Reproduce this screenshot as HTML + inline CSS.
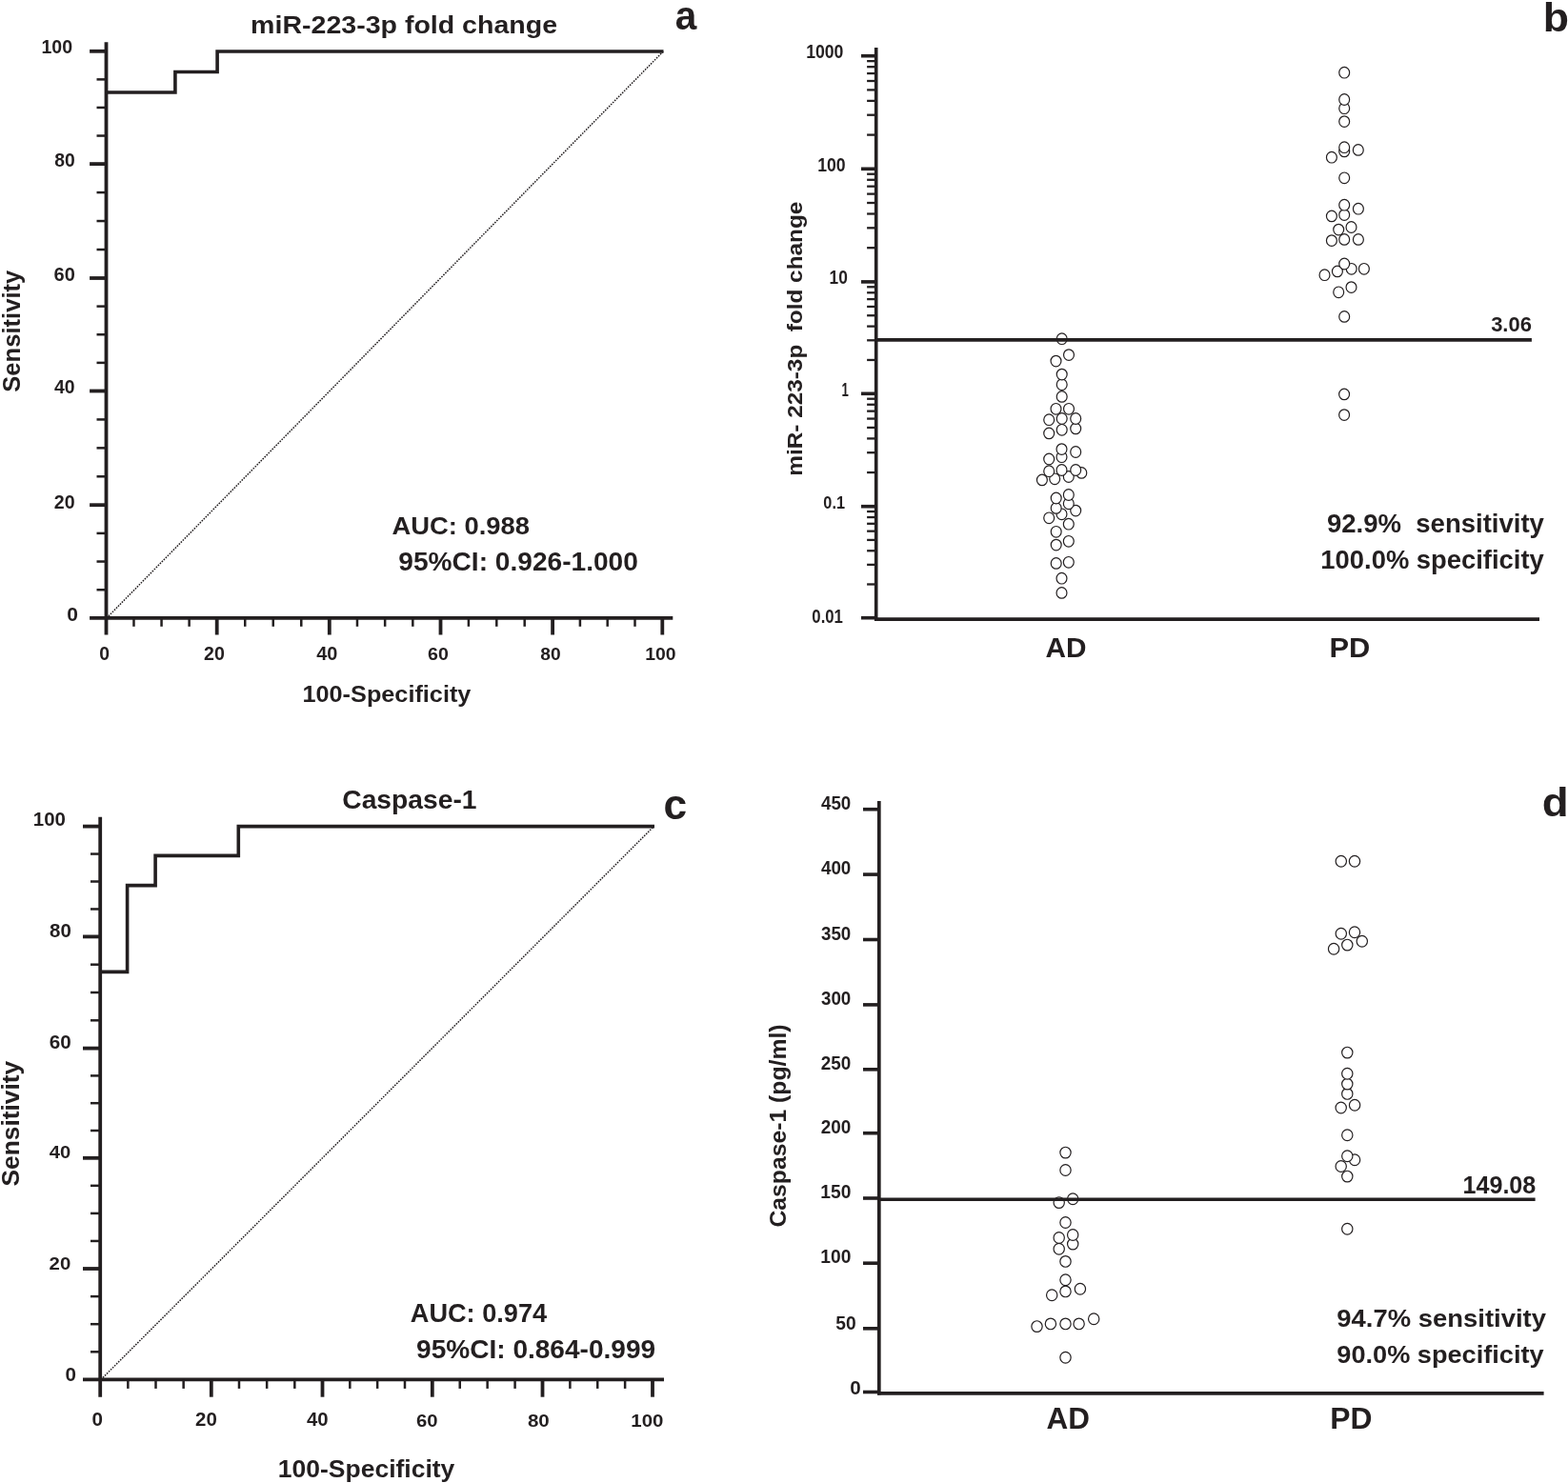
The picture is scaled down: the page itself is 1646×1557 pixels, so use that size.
<!DOCTYPE html>
<html><head><meta charset="utf-8"><title>Figure</title><style>html,body{margin:0;padding:0;background:#fff;}svg{display:block;}text{white-space:pre;}</style></head><body>
<svg width="1646" height="1557" viewBox="0 0 1646 1557"><g stroke="#231f20" fill="#231f20" font-family="&quot;Liberation Sans&quot;, Arial, sans-serif" font-weight="bold"><line x1="111.50" y1="44.30" x2="111.50" y2="666.50" stroke-width="3.8" stroke-linecap="butt"/>
<line x1="94.10" y1="648.90" x2="706.30" y2="648.90" stroke-width="3.8" stroke-linecap="butt"/>
<line x1="101.50" y1="619.23" x2="111.50" y2="619.23" stroke-width="2.5" stroke-linecap="butt"/>
<line x1="101.50" y1="589.55" x2="111.50" y2="589.55" stroke-width="2.5" stroke-linecap="butt"/>
<line x1="101.50" y1="559.88" x2="111.50" y2="559.88" stroke-width="2.5" stroke-linecap="butt"/>
<line x1="94.10" y1="530.20" x2="111.50" y2="530.20" stroke-width="3.8" stroke-linecap="butt"/>
<line x1="101.50" y1="500.28" x2="111.50" y2="500.28" stroke-width="2.5" stroke-linecap="butt"/>
<line x1="101.50" y1="470.35" x2="111.50" y2="470.35" stroke-width="2.5" stroke-linecap="butt"/>
<line x1="101.50" y1="440.43" x2="111.50" y2="440.43" stroke-width="2.5" stroke-linecap="butt"/>
<line x1="94.10" y1="410.50" x2="111.50" y2="410.50" stroke-width="3.8" stroke-linecap="butt"/>
<line x1="101.50" y1="380.88" x2="111.50" y2="380.88" stroke-width="2.5" stroke-linecap="butt"/>
<line x1="101.50" y1="351.25" x2="111.50" y2="351.25" stroke-width="2.5" stroke-linecap="butt"/>
<line x1="101.50" y1="321.62" x2="111.50" y2="321.62" stroke-width="2.5" stroke-linecap="butt"/>
<line x1="94.10" y1="292.00" x2="111.50" y2="292.00" stroke-width="3.8" stroke-linecap="butt"/>
<line x1="101.50" y1="262.02" x2="111.50" y2="262.02" stroke-width="2.5" stroke-linecap="butt"/>
<line x1="101.50" y1="232.05" x2="111.50" y2="232.05" stroke-width="2.5" stroke-linecap="butt"/>
<line x1="101.50" y1="202.07" x2="111.50" y2="202.07" stroke-width="2.5" stroke-linecap="butt"/>
<line x1="94.10" y1="172.10" x2="111.50" y2="172.10" stroke-width="3.8" stroke-linecap="butt"/>
<line x1="101.50" y1="142.53" x2="111.50" y2="142.53" stroke-width="2.5" stroke-linecap="butt"/>
<line x1="101.50" y1="112.95" x2="111.50" y2="112.95" stroke-width="2.5" stroke-linecap="butt"/>
<line x1="101.50" y1="83.38" x2="111.50" y2="83.38" stroke-width="2.5" stroke-linecap="butt"/>
<line x1="94.10" y1="53.80" x2="111.50" y2="53.80" stroke-width="3.8" stroke-linecap="butt"/>
<line x1="140.47" y1="648.90" x2="140.47" y2="657.80" stroke-width="2.5" stroke-linecap="butt"/>
<line x1="169.55" y1="648.90" x2="169.55" y2="657.80" stroke-width="2.5" stroke-linecap="butt"/>
<line x1="198.62" y1="648.90" x2="198.62" y2="657.80" stroke-width="2.5" stroke-linecap="butt"/>
<line x1="227.70" y1="648.90" x2="227.70" y2="666.50" stroke-width="3.8" stroke-linecap="butt"/>
<line x1="257.23" y1="648.90" x2="257.23" y2="657.80" stroke-width="2.5" stroke-linecap="butt"/>
<line x1="286.75" y1="648.90" x2="286.75" y2="657.80" stroke-width="2.5" stroke-linecap="butt"/>
<line x1="316.27" y1="648.90" x2="316.27" y2="657.80" stroke-width="2.5" stroke-linecap="butt"/>
<line x1="345.80" y1="648.90" x2="345.80" y2="666.50" stroke-width="3.8" stroke-linecap="butt"/>
<line x1="374.98" y1="648.90" x2="374.98" y2="657.80" stroke-width="2.5" stroke-linecap="butt"/>
<line x1="404.15" y1="648.90" x2="404.15" y2="657.80" stroke-width="2.5" stroke-linecap="butt"/>
<line x1="433.32" y1="648.90" x2="433.32" y2="657.80" stroke-width="2.5" stroke-linecap="butt"/>
<line x1="462.50" y1="648.90" x2="462.50" y2="666.50" stroke-width="3.8" stroke-linecap="butt"/>
<line x1="491.90" y1="648.90" x2="491.90" y2="657.80" stroke-width="2.5" stroke-linecap="butt"/>
<line x1="521.30" y1="648.90" x2="521.30" y2="657.80" stroke-width="2.5" stroke-linecap="butt"/>
<line x1="550.70" y1="648.90" x2="550.70" y2="657.80" stroke-width="2.5" stroke-linecap="butt"/>
<line x1="580.10" y1="648.90" x2="580.10" y2="666.50" stroke-width="3.8" stroke-linecap="butt"/>
<line x1="608.90" y1="648.90" x2="608.90" y2="657.80" stroke-width="2.5" stroke-linecap="butt"/>
<line x1="637.70" y1="648.90" x2="637.70" y2="657.80" stroke-width="2.5" stroke-linecap="butt"/>
<line x1="666.50" y1="648.90" x2="666.50" y2="657.80" stroke-width="2.5" stroke-linecap="butt"/>
<line x1="695.30" y1="648.90" x2="695.30" y2="666.50" stroke-width="3.8" stroke-linecap="butt"/>
<path d="M111.5,97.0 H183.9 V75.5 H228.1 V54.0 H696.5" stroke-width="3.6" fill="none" stroke-linejoin="miter" stroke-linecap="butt"/>
<line x1="111.9" y1="648.9" x2="696.4" y2="53.8" stroke-width="1.5" stroke-dasharray="1.6 1.25"/>
<text stroke="none" transform="translate(263.10,34.71) scale(1.0738,1)" font-size="26.60">miR-223-3p fold change</text>
<text stroke="none" transform="translate(708.78,30.87) scale(0.9414,1)" font-size="43.09">a</text>
<text stroke="none" transform="translate(20.66,411.87) rotate(-90) scale(1.0086,1)" font-size="25.43">Sensitivity</text>
<text stroke="none" transform="translate(43.43,55.99) scale(0.9381,1)" font-size="20.85">100</text>
<text stroke="none" transform="translate(57.32,174.80) scale(0.9464,1)" font-size="20.42">80</text>
<text stroke="none" transform="translate(56.60,294.70) scale(1.0216,1)" font-size="19.58">60</text>
<text stroke="none" transform="translate(57.01,413.20) scale(0.9579,1)" font-size="20.28">40</text>
<text stroke="none" transform="translate(56.81,533.79) scale(0.9474,1)" font-size="20.70">20</text>
<text stroke="none" transform="translate(70.36,652.20) scale(1.0532,1)" font-size="20.00">0</text>
<text stroke="none" transform="translate(104.33,693.01) scale(0.9961,1)" font-size="19.44">0</text>
<text stroke="none" transform="translate(214.01,693.01) scale(1.0092,1)" font-size="19.44">20</text>
<text stroke="none" transform="translate(332.30,693.11) scale(1.0316,1)" font-size="19.30">40</text>
<text stroke="none" transform="translate(449.12,693.01) scale(1.0238,1)" font-size="19.15">60</text>
<text stroke="none" transform="translate(567.32,693.01) scale(1.0040,1)" font-size="19.15">80</text>
<text stroke="none" transform="translate(677.13,693.01) scale(1.0142,1)" font-size="19.15">100</text>
<text stroke="none" transform="translate(317.48,736.86) scale(1.0329,1)" font-size="24.47">100-Specificity</text>
<text stroke="none" transform="translate(411.48,561.04) scale(1.0339,1)" font-size="26.48">AUC: 0.988</text>
<text stroke="none" transform="translate(418.28,599.32) scale(1.0181,1)" font-size="27.61">95%CI: 0.926-1.000</text>
<line x1="919.70" y1="49.90" x2="919.70" y2="651.90" stroke-width="3.6" stroke-linecap="butt"/>
<line x1="918.00" y1="650.10" x2="1616.00" y2="650.10" stroke-width="3.6" stroke-linecap="butt"/>
<line x1="904.00" y1="648.70" x2="919.70" y2="648.70" stroke-width="3.6" stroke-linecap="butt"/>
<line x1="910.10" y1="613.48" x2="919.70" y2="613.48" stroke-width="2.3" stroke-linecap="butt"/>
<line x1="910.10" y1="592.88" x2="919.70" y2="592.88" stroke-width="2.3" stroke-linecap="butt"/>
<line x1="910.10" y1="578.26" x2="919.70" y2="578.26" stroke-width="2.3" stroke-linecap="butt"/>
<line x1="910.10" y1="566.92" x2="919.70" y2="566.92" stroke-width="2.3" stroke-linecap="butt"/>
<line x1="910.10" y1="557.66" x2="919.70" y2="557.66" stroke-width="2.3" stroke-linecap="butt"/>
<line x1="910.10" y1="549.82" x2="919.70" y2="549.82" stroke-width="2.3" stroke-linecap="butt"/>
<line x1="910.10" y1="543.04" x2="919.70" y2="543.04" stroke-width="2.3" stroke-linecap="butt"/>
<line x1="910.10" y1="537.05" x2="919.70" y2="537.05" stroke-width="2.3" stroke-linecap="butt"/>
<line x1="904.00" y1="531.70" x2="919.70" y2="531.70" stroke-width="3.6" stroke-linecap="butt"/>
<line x1="910.10" y1="496.06" x2="919.70" y2="496.06" stroke-width="2.3" stroke-linecap="butt"/>
<line x1="910.10" y1="475.21" x2="919.70" y2="475.21" stroke-width="2.3" stroke-linecap="butt"/>
<line x1="910.10" y1="460.42" x2="919.70" y2="460.42" stroke-width="2.3" stroke-linecap="butt"/>
<line x1="910.10" y1="448.94" x2="919.70" y2="448.94" stroke-width="2.3" stroke-linecap="butt"/>
<line x1="910.10" y1="439.57" x2="919.70" y2="439.57" stroke-width="2.3" stroke-linecap="butt"/>
<line x1="910.10" y1="431.64" x2="919.70" y2="431.64" stroke-width="2.3" stroke-linecap="butt"/>
<line x1="910.10" y1="424.77" x2="919.70" y2="424.77" stroke-width="2.3" stroke-linecap="butt"/>
<line x1="910.10" y1="418.72" x2="919.70" y2="418.72" stroke-width="2.3" stroke-linecap="butt"/>
<line x1="904.00" y1="413.30" x2="919.70" y2="413.30" stroke-width="3.6" stroke-linecap="butt"/>
<line x1="910.10" y1="377.96" x2="919.70" y2="377.96" stroke-width="2.3" stroke-linecap="butt"/>
<line x1="910.10" y1="357.29" x2="919.70" y2="357.29" stroke-width="2.3" stroke-linecap="butt"/>
<line x1="910.10" y1="342.62" x2="919.70" y2="342.62" stroke-width="2.3" stroke-linecap="butt"/>
<line x1="910.10" y1="331.24" x2="919.70" y2="331.24" stroke-width="2.3" stroke-linecap="butt"/>
<line x1="910.10" y1="321.95" x2="919.70" y2="321.95" stroke-width="2.3" stroke-linecap="butt"/>
<line x1="910.10" y1="314.09" x2="919.70" y2="314.09" stroke-width="2.3" stroke-linecap="butt"/>
<line x1="910.10" y1="307.28" x2="919.70" y2="307.28" stroke-width="2.3" stroke-linecap="butt"/>
<line x1="910.10" y1="301.27" x2="919.70" y2="301.27" stroke-width="2.3" stroke-linecap="butt"/>
<line x1="904.00" y1="295.90" x2="919.70" y2="295.90" stroke-width="3.6" stroke-linecap="butt"/>
<line x1="910.10" y1="260.20" x2="919.70" y2="260.20" stroke-width="2.3" stroke-linecap="butt"/>
<line x1="910.10" y1="239.31" x2="919.70" y2="239.31" stroke-width="2.3" stroke-linecap="butt"/>
<line x1="910.10" y1="224.50" x2="919.70" y2="224.50" stroke-width="2.3" stroke-linecap="butt"/>
<line x1="910.10" y1="213.00" x2="919.70" y2="213.00" stroke-width="2.3" stroke-linecap="butt"/>
<line x1="910.10" y1="203.61" x2="919.70" y2="203.61" stroke-width="2.3" stroke-linecap="butt"/>
<line x1="910.10" y1="195.67" x2="919.70" y2="195.67" stroke-width="2.3" stroke-linecap="butt"/>
<line x1="910.10" y1="188.79" x2="919.70" y2="188.79" stroke-width="2.3" stroke-linecap="butt"/>
<line x1="910.10" y1="182.73" x2="919.70" y2="182.73" stroke-width="2.3" stroke-linecap="butt"/>
<line x1="904.00" y1="177.30" x2="919.70" y2="177.30" stroke-width="3.6" stroke-linecap="butt"/>
<line x1="910.10" y1="141.60" x2="919.70" y2="141.60" stroke-width="2.3" stroke-linecap="butt"/>
<line x1="910.10" y1="120.71" x2="919.70" y2="120.71" stroke-width="2.3" stroke-linecap="butt"/>
<line x1="910.10" y1="105.90" x2="919.70" y2="105.90" stroke-width="2.3" stroke-linecap="butt"/>
<line x1="910.10" y1="94.40" x2="919.70" y2="94.40" stroke-width="2.3" stroke-linecap="butt"/>
<line x1="910.10" y1="85.01" x2="919.70" y2="85.01" stroke-width="2.3" stroke-linecap="butt"/>
<line x1="910.10" y1="77.07" x2="919.70" y2="77.07" stroke-width="2.3" stroke-linecap="butt"/>
<line x1="910.10" y1="70.19" x2="919.70" y2="70.19" stroke-width="2.3" stroke-linecap="butt"/>
<line x1="910.10" y1="64.13" x2="919.70" y2="64.13" stroke-width="2.3" stroke-linecap="butt"/>
<line x1="904.00" y1="58.70" x2="919.70" y2="58.70" stroke-width="3.6" stroke-linecap="butt"/>
<text stroke="none" transform="translate(1619.68,32.60) scale(1.0323,1)" font-size="43.21">b</text>
<text stroke="none" transform="translate(842.17,499.70) rotate(-90) scale(1.0600,1)" font-size="22.98">miR- 223-3p  fold change</text>
<text stroke="none" transform="translate(846.14,60.80) scale(0.8844,1)" font-size="20.00">1000</text>
<text stroke="none" transform="translate(858.24,179.79) scale(0.8522,1)" font-size="20.70">100</text>
<text stroke="none" transform="translate(870.56,298.10) scale(0.8543,1)" font-size="20.28">10</text>
<text stroke="none" transform="translate(883.61,415.80) scale(0.6793,1)" font-size="19.42">1</text>
<text stroke="none" transform="translate(864.35,534.41) scale(0.8630,1)" font-size="18.87">0.1</text>
<text stroke="none" transform="translate(852.33,653.60) scale(0.8261,1)" font-size="20.28">0.01</text>
<text stroke="none" transform="translate(1097.61,690.40) scale(0.9879,1)" font-size="30.14">AD</text>
<text stroke="none" transform="translate(1395.44,690.40) scale(1.0237,1)" font-size="30.14">PD</text>
<text stroke="none" transform="translate(1392.90,558.80) scale(1.0150,1)" font-size="27.13">92.9%  sensitivity</text>
<text stroke="none" transform="translate(1386.36,596.74) scale(0.9982,1)" font-size="27.45">100.0% specificity</text>
<text stroke="none" transform="translate(1565.16,348.28) scale(1.0190,1)" font-size="21.55">3.06</text>
<ellipse cx="1114.5" cy="622.4" rx="5.45" ry="5.8" stroke-width="1.2" fill="#fff"/>
<ellipse cx="1114.5" cy="607.2" rx="5.45" ry="5.8" stroke-width="1.2" fill="#fff"/>
<ellipse cx="1108.7" cy="591.4" rx="5.45" ry="5.8" stroke-width="1.2" fill="#fff"/>
<ellipse cx="1121.8" cy="590.3" rx="5.45" ry="5.8" stroke-width="1.2" fill="#fff"/>
<ellipse cx="1108.7" cy="572.1" rx="5.45" ry="5.8" stroke-width="1.2" fill="#fff"/>
<ellipse cx="1121.8" cy="568.3" rx="5.45" ry="5.8" stroke-width="1.2" fill="#fff"/>
<ellipse cx="1108.7" cy="558.3" rx="5.45" ry="5.8" stroke-width="1.2" fill="#fff"/>
<ellipse cx="1121.8" cy="550.2" rx="5.45" ry="5.8" stroke-width="1.2" fill="#fff"/>
<ellipse cx="1101.2" cy="543.8" rx="5.45" ry="5.8" stroke-width="1.2" fill="#fff"/>
<ellipse cx="1114.5" cy="539.8" rx="5.45" ry="5.8" stroke-width="1.2" fill="#fff"/>
<ellipse cx="1129.2" cy="536.1" rx="5.45" ry="5.8" stroke-width="1.2" fill="#fff"/>
<ellipse cx="1108.7" cy="533.4" rx="5.45" ry="5.8" stroke-width="1.2" fill="#fff"/>
<ellipse cx="1121.8" cy="528.8" rx="5.45" ry="5.8" stroke-width="1.2" fill="#fff"/>
<ellipse cx="1108.7" cy="523.0" rx="5.45" ry="5.8" stroke-width="1.2" fill="#fff"/>
<ellipse cx="1121.8" cy="519.5" rx="5.45" ry="5.8" stroke-width="1.2" fill="#fff"/>
<ellipse cx="1093.9" cy="503.9" rx="5.45" ry="5.8" stroke-width="1.2" fill="#fff"/>
<ellipse cx="1107.2" cy="502.8" rx="5.45" ry="5.8" stroke-width="1.2" fill="#fff"/>
<ellipse cx="1121.8" cy="500.5" rx="5.45" ry="5.8" stroke-width="1.2" fill="#fff"/>
<ellipse cx="1135.3" cy="496.4" rx="5.45" ry="5.8" stroke-width="1.2" fill="#fff"/>
<ellipse cx="1101.2" cy="494.7" rx="5.45" ry="5.8" stroke-width="1.2" fill="#fff"/>
<ellipse cx="1114.5" cy="493.5" rx="5.45" ry="5.8" stroke-width="1.2" fill="#fff"/>
<ellipse cx="1129.2" cy="493.5" rx="5.45" ry="5.8" stroke-width="1.2" fill="#fff"/>
<ellipse cx="1101.2" cy="482.0" rx="5.45" ry="5.8" stroke-width="1.2" fill="#fff"/>
<ellipse cx="1114.5" cy="479.7" rx="5.45" ry="5.8" stroke-width="1.2" fill="#fff"/>
<ellipse cx="1129.2" cy="474.5" rx="5.45" ry="5.8" stroke-width="1.2" fill="#fff"/>
<ellipse cx="1114.5" cy="471.6" rx="5.45" ry="5.8" stroke-width="1.2" fill="#fff"/>
<ellipse cx="1101.2" cy="454.9" rx="5.45" ry="5.8" stroke-width="1.2" fill="#fff"/>
<ellipse cx="1114.7" cy="451.3" rx="5.45" ry="5.8" stroke-width="1.2" fill="#fff"/>
<ellipse cx="1129.2" cy="449.9" rx="5.45" ry="5.8" stroke-width="1.2" fill="#fff"/>
<ellipse cx="1101.2" cy="440.7" rx="5.45" ry="5.8" stroke-width="1.2" fill="#fff"/>
<ellipse cx="1114.7" cy="439.5" rx="5.45" ry="5.8" stroke-width="1.2" fill="#fff"/>
<ellipse cx="1129.2" cy="439.5" rx="5.45" ry="5.8" stroke-width="1.2" fill="#fff"/>
<ellipse cx="1411.1" cy="435.6" rx="5.45" ry="5.8" stroke-width="1.2" fill="#fff"/>
<ellipse cx="1108.5" cy="429.3" rx="5.45" ry="5.8" stroke-width="1.2" fill="#fff"/>
<ellipse cx="1122.0" cy="429.3" rx="5.45" ry="5.8" stroke-width="1.2" fill="#fff"/>
<ellipse cx="1114.7" cy="416.4" rx="5.45" ry="5.8" stroke-width="1.2" fill="#fff"/>
<ellipse cx="1411.1" cy="413.9" rx="5.45" ry="5.8" stroke-width="1.2" fill="#fff"/>
<ellipse cx="1114.7" cy="403.7" rx="5.45" ry="5.8" stroke-width="1.2" fill="#fff"/>
<ellipse cx="1114.7" cy="393.1" rx="5.45" ry="5.8" stroke-width="1.2" fill="#fff"/>
<ellipse cx="1108.5" cy="379.1" rx="5.45" ry="5.8" stroke-width="1.2" fill="#fff"/>
<ellipse cx="1122.0" cy="372.6" rx="5.45" ry="5.8" stroke-width="1.2" fill="#fff"/>
<ellipse cx="1114.7" cy="355.7" rx="5.45" ry="5.8" stroke-width="1.2" fill="#fff"/>
<ellipse cx="1411.2" cy="332.4" rx="5.45" ry="5.8" stroke-width="1.2" fill="#fff"/>
<ellipse cx="1405.2" cy="306.8" rx="5.45" ry="5.8" stroke-width="1.2" fill="#fff"/>
<ellipse cx="1418.5" cy="301.6" rx="5.45" ry="5.8" stroke-width="1.2" fill="#fff"/>
<ellipse cx="1390.5" cy="288.7" rx="5.45" ry="5.8" stroke-width="1.2" fill="#fff"/>
<ellipse cx="1403.9" cy="284.9" rx="5.45" ry="5.8" stroke-width="1.2" fill="#fff"/>
<ellipse cx="1418.7" cy="282.3" rx="5.45" ry="5.8" stroke-width="1.2" fill="#fff"/>
<ellipse cx="1431.9" cy="282.3" rx="5.45" ry="5.8" stroke-width="1.2" fill="#fff"/>
<ellipse cx="1411.2" cy="277.0" rx="5.45" ry="5.8" stroke-width="1.2" fill="#fff"/>
<ellipse cx="1397.9" cy="252.6" rx="5.45" ry="5.8" stroke-width="1.2" fill="#fff"/>
<ellipse cx="1411.2" cy="251.4" rx="5.45" ry="5.8" stroke-width="1.2" fill="#fff"/>
<ellipse cx="1425.9" cy="251.4" rx="5.45" ry="5.8" stroke-width="1.2" fill="#fff"/>
<ellipse cx="1405.2" cy="241.1" rx="5.45" ry="5.8" stroke-width="1.2" fill="#fff"/>
<ellipse cx="1418.5" cy="238.5" rx="5.45" ry="5.8" stroke-width="1.2" fill="#fff"/>
<ellipse cx="1397.9" cy="226.9" rx="5.45" ry="5.8" stroke-width="1.2" fill="#fff"/>
<ellipse cx="1411.2" cy="225.6" rx="5.45" ry="5.8" stroke-width="1.2" fill="#fff"/>
<ellipse cx="1425.9" cy="219.2" rx="5.45" ry="5.8" stroke-width="1.2" fill="#fff"/>
<ellipse cx="1411.2" cy="215.2" rx="5.45" ry="5.8" stroke-width="1.2" fill="#fff"/>
<ellipse cx="1411.2" cy="186.8" rx="5.45" ry="5.8" stroke-width="1.2" fill="#fff"/>
<ellipse cx="1397.9" cy="165.2" rx="5.45" ry="5.8" stroke-width="1.2" fill="#fff"/>
<ellipse cx="1411.2" cy="158.9" rx="5.45" ry="5.8" stroke-width="1.2" fill="#fff"/>
<ellipse cx="1425.8" cy="157.4" rx="5.45" ry="5.8" stroke-width="1.2" fill="#fff"/>
<ellipse cx="1411.2" cy="154.7" rx="5.45" ry="5.8" stroke-width="1.2" fill="#fff"/>
<ellipse cx="1411.2" cy="127.6" rx="5.45" ry="5.8" stroke-width="1.2" fill="#fff"/>
<ellipse cx="1411.2" cy="113.7" rx="5.45" ry="5.8" stroke-width="1.2" fill="#fff"/>
<ellipse cx="1411.2" cy="104.5" rx="5.45" ry="5.8" stroke-width="1.2" fill="#fff"/>
<ellipse cx="1411.2" cy="76.2" rx="5.45" ry="5.8" stroke-width="1.2" fill="#fff"/>
<line x1="919.70" y1="356.90" x2="1607.90" y2="356.90" stroke-width="3.6" stroke-linecap="butt"/>
<line x1="105.20" y1="857.80" x2="105.20" y2="1466.70" stroke-width="3.8" stroke-linecap="butt"/>
<line x1="87.00" y1="1448.40" x2="697.00" y2="1448.40" stroke-width="3.8" stroke-linecap="butt"/>
<line x1="95.00" y1="1419.30" x2="105.20" y2="1419.30" stroke-width="2.5" stroke-linecap="butt"/>
<line x1="95.00" y1="1390.20" x2="105.20" y2="1390.20" stroke-width="2.5" stroke-linecap="butt"/>
<line x1="95.00" y1="1361.10" x2="105.20" y2="1361.10" stroke-width="2.5" stroke-linecap="butt"/>
<line x1="87.00" y1="1332.00" x2="105.20" y2="1332.00" stroke-width="3.8" stroke-linecap="butt"/>
<line x1="95.00" y1="1302.95" x2="105.20" y2="1302.95" stroke-width="2.5" stroke-linecap="butt"/>
<line x1="95.00" y1="1273.90" x2="105.20" y2="1273.90" stroke-width="2.5" stroke-linecap="butt"/>
<line x1="95.00" y1="1244.85" x2="105.20" y2="1244.85" stroke-width="2.5" stroke-linecap="butt"/>
<line x1="87.00" y1="1215.80" x2="105.20" y2="1215.80" stroke-width="3.8" stroke-linecap="butt"/>
<line x1="95.00" y1="1187.00" x2="105.20" y2="1187.00" stroke-width="2.5" stroke-linecap="butt"/>
<line x1="95.00" y1="1158.20" x2="105.20" y2="1158.20" stroke-width="2.5" stroke-linecap="butt"/>
<line x1="95.00" y1="1129.40" x2="105.20" y2="1129.40" stroke-width="2.5" stroke-linecap="butt"/>
<line x1="87.00" y1="1100.60" x2="105.20" y2="1100.60" stroke-width="3.8" stroke-linecap="butt"/>
<line x1="95.00" y1="1071.30" x2="105.20" y2="1071.30" stroke-width="2.5" stroke-linecap="butt"/>
<line x1="95.00" y1="1042.00" x2="105.20" y2="1042.00" stroke-width="2.5" stroke-linecap="butt"/>
<line x1="95.00" y1="1012.70" x2="105.20" y2="1012.70" stroke-width="2.5" stroke-linecap="butt"/>
<line x1="87.00" y1="983.40" x2="105.20" y2="983.40" stroke-width="3.8" stroke-linecap="butt"/>
<line x1="95.00" y1="954.45" x2="105.20" y2="954.45" stroke-width="2.5" stroke-linecap="butt"/>
<line x1="95.00" y1="925.50" x2="105.20" y2="925.50" stroke-width="2.5" stroke-linecap="butt"/>
<line x1="95.00" y1="896.55" x2="105.20" y2="896.55" stroke-width="2.5" stroke-linecap="butt"/>
<line x1="87.00" y1="867.60" x2="105.20" y2="867.60" stroke-width="3.8" stroke-linecap="butt"/>
<line x1="134.35" y1="1448.40" x2="134.35" y2="1457.90" stroke-width="2.5" stroke-linecap="butt"/>
<line x1="163.50" y1="1448.40" x2="163.50" y2="1457.90" stroke-width="2.5" stroke-linecap="butt"/>
<line x1="192.65" y1="1448.40" x2="192.65" y2="1457.90" stroke-width="2.5" stroke-linecap="butt"/>
<line x1="221.80" y1="1448.40" x2="221.80" y2="1466.70" stroke-width="3.8" stroke-linecap="butt"/>
<line x1="250.98" y1="1448.40" x2="250.98" y2="1457.90" stroke-width="2.5" stroke-linecap="butt"/>
<line x1="280.15" y1="1448.40" x2="280.15" y2="1457.90" stroke-width="2.5" stroke-linecap="butt"/>
<line x1="309.32" y1="1448.40" x2="309.32" y2="1457.90" stroke-width="2.5" stroke-linecap="butt"/>
<line x1="338.50" y1="1448.40" x2="338.50" y2="1466.70" stroke-width="3.8" stroke-linecap="butt"/>
<line x1="367.32" y1="1448.40" x2="367.32" y2="1457.90" stroke-width="2.5" stroke-linecap="butt"/>
<line x1="396.15" y1="1448.40" x2="396.15" y2="1457.90" stroke-width="2.5" stroke-linecap="butt"/>
<line x1="424.98" y1="1448.40" x2="424.98" y2="1457.90" stroke-width="2.5" stroke-linecap="butt"/>
<line x1="453.80" y1="1448.40" x2="453.80" y2="1466.70" stroke-width="3.8" stroke-linecap="butt"/>
<line x1="482.73" y1="1448.40" x2="482.73" y2="1457.90" stroke-width="2.5" stroke-linecap="butt"/>
<line x1="511.65" y1="1448.40" x2="511.65" y2="1457.90" stroke-width="2.5" stroke-linecap="butt"/>
<line x1="540.58" y1="1448.40" x2="540.58" y2="1457.90" stroke-width="2.5" stroke-linecap="butt"/>
<line x1="569.50" y1="1448.40" x2="569.50" y2="1466.70" stroke-width="3.8" stroke-linecap="butt"/>
<line x1="598.38" y1="1448.40" x2="598.38" y2="1457.90" stroke-width="2.5" stroke-linecap="butt"/>
<line x1="627.25" y1="1448.40" x2="627.25" y2="1457.90" stroke-width="2.5" stroke-linecap="butt"/>
<line x1="656.12" y1="1448.40" x2="656.12" y2="1457.90" stroke-width="2.5" stroke-linecap="butt"/>
<line x1="685.00" y1="1448.40" x2="685.00" y2="1466.70" stroke-width="3.8" stroke-linecap="butt"/>
<path d="M105.2,1020.4 H133.6 V929.6 H163.1 V898.4 H250.3 V867.6 H687" stroke-width="3.6" fill="none" stroke-linejoin="miter" stroke-linecap="butt"/>
<line x1="106.0" y1="1448.4" x2="686.5" y2="867.5" stroke-width="1.5" stroke-dasharray="1.6 1.25"/>
<text stroke="none" transform="translate(359.27,848.52) scale(0.9929,1)" font-size="28.46">Caspase-1</text>
<text stroke="none" transform="translate(696.43,860.16) scale(0.9982,1)" font-size="44.36">c</text>
<text stroke="none" transform="translate(20.09,1245.49) rotate(-90) scale(0.9861,1)" font-size="26.70">Sensitivity</text>
<text stroke="none" transform="translate(34.77,867.09) scale(0.9943,1)" font-size="20.56">100</text>
<text stroke="none" transform="translate(52.09,984.31) scale(1.0614,1)" font-size="19.30">80</text>
<text stroke="none" transform="translate(51.87,1100.80) scale(1.0488,1)" font-size="19.72">60</text>
<text stroke="none" transform="translate(51.80,1215.62) scale(1.1199,1)" font-size="18.03">40</text>
<text stroke="none" transform="translate(51.59,1332.81) scale(1.0801,1)" font-size="18.87">20</text>
<text stroke="none" transform="translate(68.47,1450.09) scale(1.0036,1)" font-size="20.56">0</text>
<text stroke="none" transform="translate(96.57,1497.19) scale(1.0036,1)" font-size="20.56">0</text>
<text stroke="none" transform="translate(205.09,1497.20) scale(1.0098,1)" font-size="20.28">20</text>
<text stroke="none" transform="translate(321.89,1497.20) scale(1.0049,1)" font-size="20.28">40</text>
<text stroke="none" transform="translate(436.89,1497.51) scale(1.0751,1)" font-size="18.87">60</text>
<text stroke="none" transform="translate(553.88,1497.51) scale(1.0903,1)" font-size="18.87">80</text>
<text stroke="none" transform="translate(662.37,1497.51) scale(1.0833,1)" font-size="18.87">100</text>
<text stroke="none" transform="translate(291.81,1550.75) scale(1.0599,1)" font-size="25.00">100-Specificity</text>
<text stroke="none" transform="translate(430.78,1387.83) scale(1.0049,1)" font-size="27.04">AUC: 0.974</text>
<text stroke="none" transform="translate(437.08,1425.83) scale(1.0323,1)" font-size="27.18">95%CI: 0.864-0.999</text>
<line x1="922.80" y1="841.00" x2="922.80" y2="1464.50" stroke-width="3.7" stroke-linecap="butt"/>
<line x1="921.00" y1="1462.90" x2="1620.60" y2="1462.90" stroke-width="3.7" stroke-linecap="butt"/>
<line x1="906.00" y1="1461.50" x2="922.80" y2="1461.50" stroke-width="3.6" stroke-linecap="butt"/>
<line x1="906.00" y1="1394.80" x2="922.80" y2="1394.80" stroke-width="3.6" stroke-linecap="butt"/>
<line x1="906.00" y1="1326.20" x2="922.80" y2="1326.20" stroke-width="3.6" stroke-linecap="butt"/>
<line x1="906.00" y1="1258.00" x2="922.80" y2="1258.00" stroke-width="3.6" stroke-linecap="butt"/>
<line x1="906.00" y1="1189.70" x2="922.80" y2="1189.70" stroke-width="3.6" stroke-linecap="butt"/>
<line x1="906.00" y1="1122.80" x2="922.80" y2="1122.80" stroke-width="3.6" stroke-linecap="butt"/>
<line x1="906.00" y1="1054.90" x2="922.80" y2="1054.90" stroke-width="3.6" stroke-linecap="butt"/>
<line x1="906.00" y1="986.50" x2="922.80" y2="986.50" stroke-width="3.6" stroke-linecap="butt"/>
<line x1="906.00" y1="918.10" x2="922.80" y2="918.10" stroke-width="3.6" stroke-linecap="butt"/>
<line x1="906.00" y1="849.70" x2="922.80" y2="849.70" stroke-width="3.6" stroke-linecap="butt"/>
<text stroke="none" transform="translate(1618.78,856.50) scale(1.0635,1)" font-size="42.88">d</text>
<text stroke="none" transform="translate(824.68,1288.59) rotate(-90) scale(1.0170,1)" font-size="24.36">Caspase-1 (pg/ml)</text>
<text stroke="none" transform="translate(892.37,1463.50) scale(1.0319,1)" font-size="20.00">0</text>
<text stroke="none" transform="translate(877.22,1395.69) scale(0.9103,1)" font-size="21.13">50</text>
<text stroke="none" transform="translate(861.25,1326.20) scale(0.9686,1)" font-size="19.86">100</text>
<text stroke="none" transform="translate(861.25,1258.00) scale(0.9686,1)" font-size="19.86">150</text>
<text stroke="none" transform="translate(861.83,1189.70) scale(0.9504,1)" font-size="19.86">200</text>
<text stroke="none" transform="translate(861.83,1122.80) scale(0.9504,1)" font-size="19.86">250</text>
<text stroke="none" transform="translate(862.02,1054.90) scale(0.9445,1)" font-size="19.86">300</text>
<text stroke="none" transform="translate(862.02,986.50) scale(0.9445,1)" font-size="19.86">350</text>
<text stroke="none" transform="translate(862.02,918.10) scale(0.9445,1)" font-size="19.86">400</text>
<text stroke="none" transform="translate(862.02,849.70) scale(0.9445,1)" font-size="19.86">450</text>
<text stroke="none" transform="translate(1098.46,1499.50) scale(1.0191,1)" font-size="30.87">AD</text>
<text stroke="none" transform="translate(1396.27,1499.50) scale(1.0326,1)" font-size="30.87">PD</text>
<text stroke="none" transform="translate(1403.30,1393.34) scale(1.0363,1)" font-size="26.49">94.7% sensitivity</text>
<text stroke="none" transform="translate(1403.31,1430.94) scale(1.0253,1)" font-size="26.49">90.0% specificity</text>
<text stroke="none" transform="translate(1535.49,1252.84) scale(0.9640,1)" font-size="26.06">149.08</text>
<ellipse cx="1118.5" cy="1425.2" rx="5.65" ry="5.85" stroke-width="1.2" fill="#fff"/>
<ellipse cx="1088.5" cy="1392.6" rx="5.65" ry="5.85" stroke-width="1.2" fill="#fff"/>
<ellipse cx="1102.9" cy="1389.9" rx="5.65" ry="5.85" stroke-width="1.2" fill="#fff"/>
<ellipse cx="1118.5" cy="1389.9" rx="5.65" ry="5.85" stroke-width="1.2" fill="#fff"/>
<ellipse cx="1132.6" cy="1389.9" rx="5.65" ry="5.85" stroke-width="1.2" fill="#fff"/>
<ellipse cx="1148.2" cy="1384.8" rx="5.65" ry="5.85" stroke-width="1.2" fill="#fff"/>
<ellipse cx="1104.2" cy="1359.7" rx="5.65" ry="5.85" stroke-width="1.2" fill="#fff"/>
<ellipse cx="1118.5" cy="1355.9" rx="5.65" ry="5.85" stroke-width="1.2" fill="#fff"/>
<ellipse cx="1133.9" cy="1353.3" rx="5.65" ry="5.85" stroke-width="1.2" fill="#fff"/>
<ellipse cx="1118.5" cy="1343.8" rx="5.65" ry="5.85" stroke-width="1.2" fill="#fff"/>
<ellipse cx="1118.5" cy="1324.4" rx="5.65" ry="5.85" stroke-width="1.2" fill="#fff"/>
<ellipse cx="1111.7" cy="1311.2" rx="5.65" ry="5.85" stroke-width="1.2" fill="#fff"/>
<ellipse cx="1126.2" cy="1306.1" rx="5.65" ry="5.85" stroke-width="1.2" fill="#fff"/>
<ellipse cx="1111.7" cy="1299.5" rx="5.65" ry="5.85" stroke-width="1.2" fill="#fff"/>
<ellipse cx="1126.2" cy="1296.5" rx="5.65" ry="5.85" stroke-width="1.2" fill="#fff"/>
<ellipse cx="1414.3" cy="1290.2" rx="5.65" ry="5.85" stroke-width="1.2" fill="#fff"/>
<ellipse cx="1118.5" cy="1283.5" rx="5.65" ry="5.85" stroke-width="1.2" fill="#fff"/>
<ellipse cx="1111.7" cy="1262.6" rx="5.65" ry="5.85" stroke-width="1.2" fill="#fff"/>
<ellipse cx="1126.2" cy="1258.7" rx="5.65" ry="5.85" stroke-width="1.2" fill="#fff"/>
<ellipse cx="1414.3" cy="1235.1" rx="5.65" ry="5.85" stroke-width="1.2" fill="#fff"/>
<ellipse cx="1118.5" cy="1228.5" rx="5.65" ry="5.85" stroke-width="1.2" fill="#fff"/>
<ellipse cx="1407.7" cy="1224.5" rx="5.65" ry="5.85" stroke-width="1.2" fill="#fff"/>
<ellipse cx="1422.1" cy="1217.8" rx="5.65" ry="5.85" stroke-width="1.2" fill="#fff"/>
<ellipse cx="1414.3" cy="1213.7" rx="5.65" ry="5.85" stroke-width="1.2" fill="#fff"/>
<ellipse cx="1118.5" cy="1210.1" rx="5.65" ry="5.85" stroke-width="1.2" fill="#fff"/>
<ellipse cx="1414.3" cy="1191.8" rx="5.65" ry="5.85" stroke-width="1.2" fill="#fff"/>
<ellipse cx="1407.7" cy="1163.0" rx="5.65" ry="5.85" stroke-width="1.2" fill="#fff"/>
<ellipse cx="1422.1" cy="1160.2" rx="5.65" ry="5.85" stroke-width="1.2" fill="#fff"/>
<ellipse cx="1414.3" cy="1148.4" rx="5.65" ry="5.85" stroke-width="1.2" fill="#fff"/>
<ellipse cx="1414.3" cy="1138.1" rx="5.65" ry="5.85" stroke-width="1.2" fill="#fff"/>
<ellipse cx="1414.3" cy="1127.3" rx="5.65" ry="5.85" stroke-width="1.2" fill="#fff"/>
<ellipse cx="1414.3" cy="1105.1" rx="5.65" ry="5.85" stroke-width="1.2" fill="#fff"/>
<ellipse cx="1400.1" cy="996.2" rx="5.65" ry="5.85" stroke-width="1.2" fill="#fff"/>
<ellipse cx="1414.3" cy="992.1" rx="5.65" ry="5.85" stroke-width="1.2" fill="#fff"/>
<ellipse cx="1429.8" cy="988.3" rx="5.65" ry="5.85" stroke-width="1.2" fill="#fff"/>
<ellipse cx="1407.8" cy="980.3" rx="5.65" ry="5.85" stroke-width="1.2" fill="#fff"/>
<ellipse cx="1422.0" cy="978.8" rx="5.65" ry="5.85" stroke-width="1.2" fill="#fff"/>
<ellipse cx="1407.8" cy="904.3" rx="5.65" ry="5.85" stroke-width="1.2" fill="#fff"/>
<ellipse cx="1422.0" cy="904.3" rx="5.65" ry="5.85" stroke-width="1.2" fill="#fff"/>
<line x1="922.80" y1="1259.30" x2="1611.60" y2="1259.30" stroke-width="3.6" stroke-linecap="butt"/></g></svg>
</body></html>
